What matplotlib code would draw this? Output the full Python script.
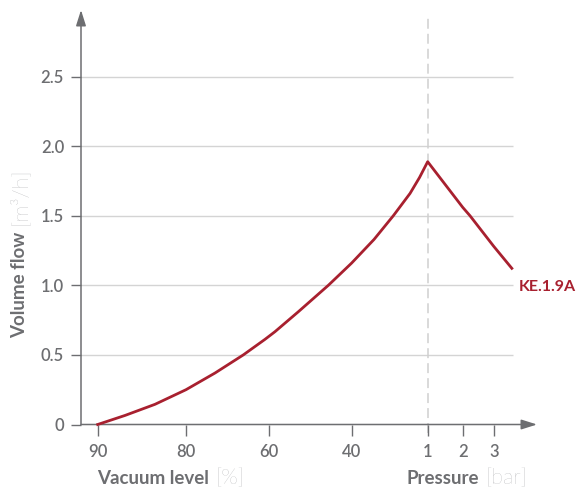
import matplotlib
matplotlib.use('Agg')
import matplotlib.pyplot as plt

# ---------------- data ----------------
x_tick_labels = ['90', '80', '60', '40', '1', '2', '3']      # vacuum % | pressure bar
x_tick_pos = [0.0, 1.0, 1.94, 2.876, 3.737, 4.134, 4.485]     # axis units
y_ticks = [0, 0.5, 1.0, 1.5, 2.0, 2.5]
y_tick_labels = ['0', '0.5', '1.0', '1.5', '2.0', '2.5']
curve_u = [0.0, 0.309, 0.649, 1.0, 1.329, 1.649, 1.895, 2.008, 2.272, 2.612,
           2.876, 3.13, 3.348, 3.537, 3.645, 3.737, 4.134, 4.216, 4.485, 4.69]
curve_flow = [0.0, 0.065, 0.145, 0.25, 0.37, 0.5, 0.612, 0.667, 0.81, 1.0,
              1.16, 1.33, 1.5, 1.66, 1.775, 1.888, 1.56, 1.5, 1.28, 1.122]
series_name = 'KE.1.9A'

# ---------------- style ----------------
FONT = ['Lato', 'DejaVu Sans']
GRAY = '#6d6e71'
LIGHT = '#9c9da0'
RED = '#a8202f'
GRID = '#d4d4d4'

W, H = 581, 490
fig = plt.figure(figsize=(W / 100, H / 100), dpi=100)
ax_l, ax_r, ax_b, ax_t = 81, 537, 424.5, 10
ax = fig.add_axes([ax_l / W, (H - ax_b) / H, (ax_r - ax_l) / W, (ax_b - ax_t) / H])
ax.set_xlim(-0.189, 4.975)
ax.set_ylim(0, 2.978)
for s in ax.spines.values():
    s.set_visible(False)

# gridlines
ax.hlines(y_ticks[1:], -0.189, 4.703, color=GRID, lw=1.0, zorder=1)

# dashed separator at 1 bar
ax.axvline(x_tick_pos[4], ymin=-0.021, ymax=0.981, color='#cfcfcf', lw=1.1,
           linestyle=(0, (6.5, 3.3)), clip_on=False, zorder=1)

# axes with arrows
arrow = dict(arrowstyle='-|>,head_length=0.95,head_width=0.3', color=GRAY,
             lw=1.1, shrinkA=0, shrinkB=0)
ax.annotate('', xy=(1, 0), xytext=(0, 0), xycoords='axes fraction',
            arrowprops=arrow, annotation_clip=False, zorder=3)
ax.annotate('', xy=(0, 1), xytext=(0, 0), xycoords='axes fraction',
            arrowprops=arrow, annotation_clip=False, zorder=3)

# ticks
ax.set_xticks(x_tick_pos, x_tick_labels)
ax.set_yticks(y_ticks, y_tick_labels)
ax.tick_params(axis='x', length=8, width=1.0, color=GRAY, pad=6,
               labelsize=12, labelcolor=GRAY)
ax.tick_params(axis='y', length=7.2, width=1.0, color=GRAY, pad=5,
               labelsize=12, labelcolor=GRAY)
for lab in ax.get_xticklabels() + ax.get_yticklabels():
    lab.set_family(FONT)
    lab.set_fontweight('semibold')

# curve
ax.plot(curve_u, curve_flow, color=RED, lw=2.0, zorder=4, clip_on=False,
        solid_joinstyle='round')
ax.annotate(series_name, xy=(curve_u[-1], curve_flow[-1]), xytext=(5, -13.7),
            textcoords='offset points', ha='left', va='center', color=RED,
            fontsize=11.5, fontweight='bold', family=FONT, annotation_clip=False)

# axis labels (bold part + light bracket part)
def label(x, y, bold, light, rot=0):
    t = fig.text(x / W, (H - y) / H, bold, color=GRAY, fontsize=13.5,
                 fontweight='bold', family=FONT, rotation=rot,
                 ha='left' if rot == 0 else 'center',
                 va='baseline' if rot == 0 else 'bottom')
    if rot == 0:
        ax.annotate(light, xy=(1, 0), xycoords=t,
                    xytext=(5, -1), textcoords='offset points',
                    ha='left', va='bottom', color=LIGHT, fontsize=15.5,
                    fontweight='light', family=FONT, annotation_clip=False)
    else:
        ax.annotate(light, xy=(0.5, 1), xycoords=t,
                    xytext=(0, 5), textcoords='offset points',
                    ha='center', va='bottom', color=LIGHT, fontsize=15.5,
                    fontweight='light', family=FONT, rotation=90,
                    annotation_clip=False)
    return t

label(97, 484, 'Vacuum level', '[%]')
label(406, 484, 'Pressure', '[bar]')
label(20, 338, 'Volume flow', '[m³/h]', rot=90)

fig.savefig('out.png', dpi=100, facecolor='white')
